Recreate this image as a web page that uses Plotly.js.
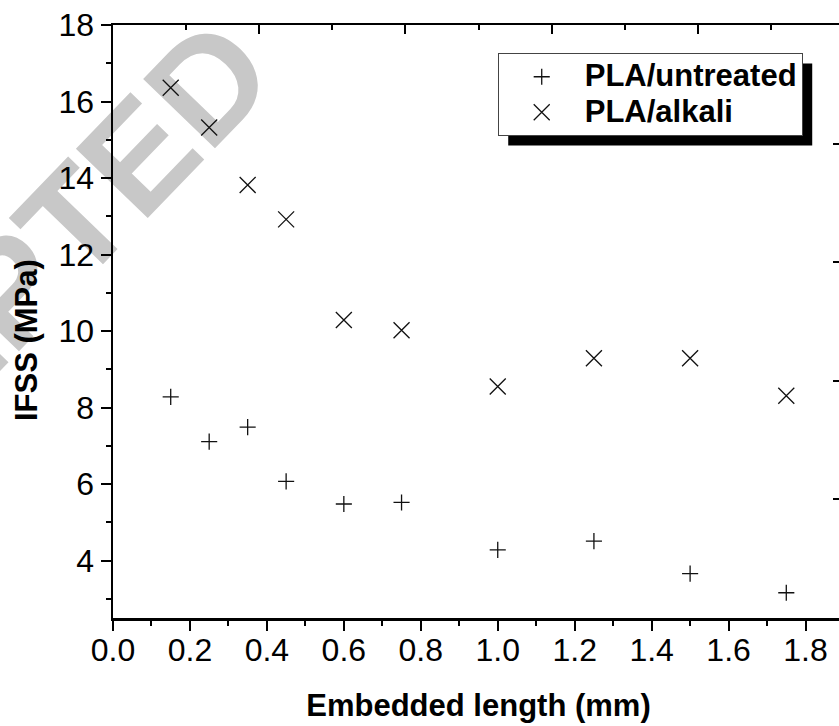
<!DOCTYPE html>
<html>
<head>
<meta charset="utf-8">
<script src="https://cdn.plot.ly/plotly-3.0.1.min.js"></script>
<style>
  html, body { margin: 0; padding: 0; background: #fff; overflow: hidden; width: 839px; height: 726px; }
  #wrap { position: relative; width: 850px; height: 726px; }
  #stamp { position: absolute; left: 0; top: 0; }
  #chart { position: absolute; left: 0; top: 0; width: 850px; height: 726px; }
</style>
</head>
<body>
<div id="wrap">
  <svg id="stamp" width="850" height="726">
    <text x="281" y="80" transform="rotate(-46 281 80)" text-anchor="end"
          font-family="Arial, 'Liberation Sans', sans-serif" font-weight="bold"
          font-size="145" fill="#c8c8c8">ACCEPTED</text>
  </svg>
  <div id="chart"></div>
</div>
<script>
// Interfacial shear strength vs. embedded fibre length
const embeddedLength = [0.15, 0.25, 0.35, 0.45, 0.60, 0.75, 1.00, 1.25, 1.50, 1.75];
const ifssUntreated  = [8.28, 7.11, 7.49, 6.07, 5.48, 5.52, 4.28, 4.51, 3.66, 3.16];
const ifssAlkali     = [16.36, 15.32, 13.82, 12.92, 10.29, 10.02, 8.55, 9.29, 9.29, 8.31];
const seriesNames    = ['PLA/untreated', 'PLA/alkali'];
const xTitle = 'Embedded length (mm)';
const yTitle = 'IFSS (MPa)';

const FONT = 'Arial, "Liberation Sans", sans-serif';
const INK = '#000';
// legend rows are packed tighter than the label size would normally give
const legendLabel = s => '<span style="font-size:31px">' + s + '</span>';

const traces = [
  {
    x: embeddedLength, y: ifssUntreated, name: legendLabel(seriesNames[0]),
    type: 'scatter', mode: 'markers',
    marker: { symbol: 'cross-thin', size: 11.5, color: '#111', line: { width: 1.3, color: '#111' } }
  },
  {
    x: embeddedLength, y: ifssAlkali, name: legendLabel(seriesNames[1]),
    type: 'scatter', mode: 'markers',
    marker: { symbol: 'x-thin', size: 16, color: '#111', line: { width: 1.3, color: '#111' } }
  },
  // carrier for the top / right frame axes
  { x: [], y: [], xaxis: 'x2', yaxis: 'y2', type: 'scatter', mode: 'markers',
    showlegend: false, hoverinfo: 'skip' }
];

const layout = {
  width: 850, height: 726,
  margin: { l: 113, r: 5.5, t: 25, b: 108 },
  paper_bgcolor: 'rgba(0,0,0,0)',
  plot_bgcolor: 'rgba(0,0,0,0)',
  font: { family: FONT, color: INK, size: 30 },
  showlegend: true,
  legend: {
    x: 0.5263, y: 0.9528, xanchor: 'left', yanchor: 'top',
    bgcolor: '#fff', bordercolor: '#444', borderwidth: 1,
    font: { family: FONT, size: 25, weight: 'bold', color: INK },
    itemwidth: 76, tracegroupgap: 0
  },
  xaxis: {
    range: [0, 1.9], tick0: 0, dtick: 0.2, tickformat: '.1f',
    ticks: 'outside', ticklen: 10, tickwidth: 2, tickcolor: INK,
    showline: true, linewidth: 2.5, linecolor: INK,
    showgrid: false, zeroline: false, ticklabelstandoff: -8,
    minor: { tick0: 0, dtick: 0.1, ticks: 'outside', ticklen: 5, tickwidth: 2, tickcolor: INK, showgrid: false },
    tickfont: { family: FONT, size: 32, color: INK },
    title: { text: xTitle, font: { family: FONT, size: 31, weight: 'bold', color: INK }, standoff: 28 }
  },
  yaxis: {
    range: [2.5, 18], tick0: 0, dtick: 2,
    ticks: 'outside', ticklen: 10, tickwidth: 2, tickcolor: INK,
    showline: true, linewidth: 2.5, linecolor: INK,
    showgrid: false, zeroline: false,
    minor: { tick0: 0, dtick: 1, ticks: 'outside', ticklen: 5, tickwidth: 2, tickcolor: INK, showgrid: false },
    tickfont: { family: FONT, size: 32, color: INK }
  },
  xaxis2: {
    overlaying: 'x', side: 'top', anchor: 'y',
    range: [0, 5], tick0: 0, dtick: 1,
    ticks: 'inside', ticklen: 9, tickwidth: 2, tickcolor: INK,
    showline: true, linewidth: 2, linecolor: INK,
    showgrid: false, zeroline: false, showticklabels: false,
    minor: { tick0: 0, dtick: 0.5, ticks: 'inside', ticklen: 5, tickwidth: 2, tickcolor: INK, showgrid: false }
  },
  yaxis2: {
    overlaying: 'y', side: 'right', anchor: 'x',
    range: [0, 5], tick0: 0, dtick: 1,
    ticks: 'inside', ticklen: 11, tickwidth: 2, tickcolor: INK,
    showline: true, linewidth: 2, linecolor: INK,
    showgrid: false, zeroline: false, showticklabels: false
  },
  // y-axis title sits a little below the axis centre
  annotations: [{
    text: yTitle, textangle: -90,
    xref: 'paper', yref: 'paper', x: -0.1189, y: 0.4688,
    xanchor: 'center', yanchor: 'middle', showarrow: false,
    font: { family: FONT, size: 31, weight: 'bold', color: INK }
  }]
};

const gd = document.getElementById('chart');
Plotly.newPlot(gd, traces, layout, { staticPlot: true, displayModeBar: false }).then(function () {
  // solid drop shadow behind the legend box
  const bg = gd.querySelector('.legend rect.bg');
  if (!bg) return;
  const r = bg.getBoundingClientRect();
  const g = gd.getBoundingClientRect();
  const sz = gd._fullLayout._size;
  const off = 10;
  const left = r.left - g.left + off, right = r.right - g.left + off;
  const top = r.top - g.top + off, bottom = r.bottom - g.top + off;
  const px = v => (v - sz.l) / sz.w;
  const py = v => 1 - (v - sz.t) / sz.h;
  return Plotly.relayout(gd, {
    shapes: [{
      type: 'rect', xref: 'paper', yref: 'paper', layer: 'above',
      x0: px(left), x1: px(right), y0: py(bottom), y1: py(top),
      fillcolor: '#000', line: { width: 0 }
    }]
  });
});
</script>
</body>
</html>
